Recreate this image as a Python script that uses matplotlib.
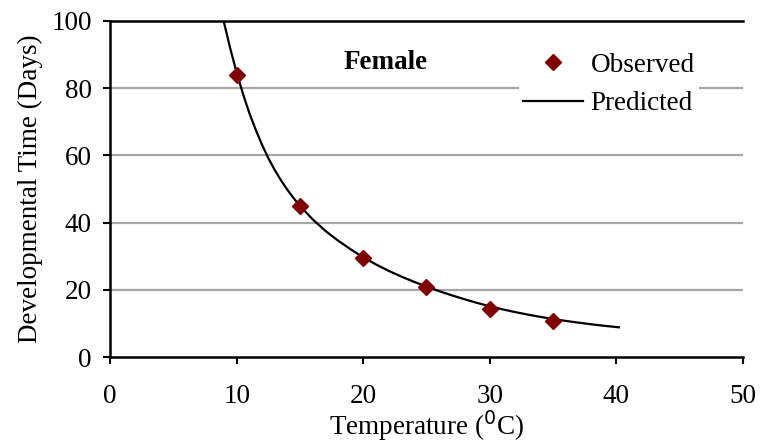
import matplotlib.pyplot as plt

# observed development time (days) at each temperature
obs_temp = [10, 15, 20, 25, 30, 35]
obs_days = [84.0, 44.8, 29.6, 20.8, 14.4, 10.8]

# predicted curve
pred_temp = [9.0, 9.5, 10, 10.5, 11, 11.5, 12, 12.5, 13, 13.5, 14, 14.5, 15,
             16, 17, 18, 19, 20, 21, 22, 23, 24, 25, 26, 27, 28, 29, 30,
             31, 32, 33, 34, 35, 36, 37, 38, 39, 40.2]
pred_days = [99.5, 91.7, 84.6, 78.3, 72.6, 67.7, 63.2, 59.2, 55.7, 52.6, 49.8,
             47.3, 45.0, 41.0, 37.6, 34.7, 32.1, 29.7, 27.6, 25.7, 24.0, 22.45,
             21.0, 19.65, 18.4, 17.25, 16.15, 15.15, 14.25, 13.43, 12.68, 12.0,
             11.38, 10.81, 10.29, 9.81, 9.37, 8.9]

x_ticks = [0, 10, 20, 30, 40, 50]
y_ticks = [0, 20, 40, 60, 80, 100]

plt.rcParams['font.family'] = ['Liberation Serif', 'DejaVu Serif']
FS = 19.5

fig = plt.figure(figsize=(7.62, 4.43), dpi=100)
ax = fig.add_axes([0.1444, 0.1935, 0.8306, 0.7598])

for y in y_ticks[1:-1]:
    ax.axhline(y, color='#a6a6a6', lw=1.6, zorder=0)

ax.plot(obs_temp, obs_days, linestyle='none', marker='D', markersize=8,
        color='#800000', label='Observed', zorder=3)
ax.plot(pred_temp, pred_days, color='black', lw=1.6, label='Predicted', zorder=2)

ax.set_xlim(0, 50)
ax.set_ylim(0, 100)
ax.set_xticks(x_ticks)
ax.set_yticks(y_ticks)
ax.tick_params(direction='out', length=5, width=1.5, labelsize=FS)
ax.tick_params(axis='x', pad=14)
ax.tick_params(axis='y', pad=8)

for side in ['left', 'bottom', 'top']:
    ax.spines[side].set_linewidth(1.8)
ax.spines['right'].set_visible(False)

ax.set_xlabel('Temperature ($^0$C)', fontsize=FS, labelpad=0)
ax.set_ylabel('Developmental Time (Days)', fontsize=FS, labelpad=6)

ax.text(21.8, 87.7, 'Female', fontsize=FS, fontweight='bold', ha='center', va='center')

leg = ax.legend(loc='center left', bbox_to_anchor=(0.646, 0.81), fontsize=FS,
                frameon=True, fancybox=False, edgecolor='none', framealpha=1,
                handlelength=2.2, handletextpad=0.3, borderpad=0.15,
                labelspacing=0.5, borderaxespad=0)

fig.savefig('out.png', dpi=100)
